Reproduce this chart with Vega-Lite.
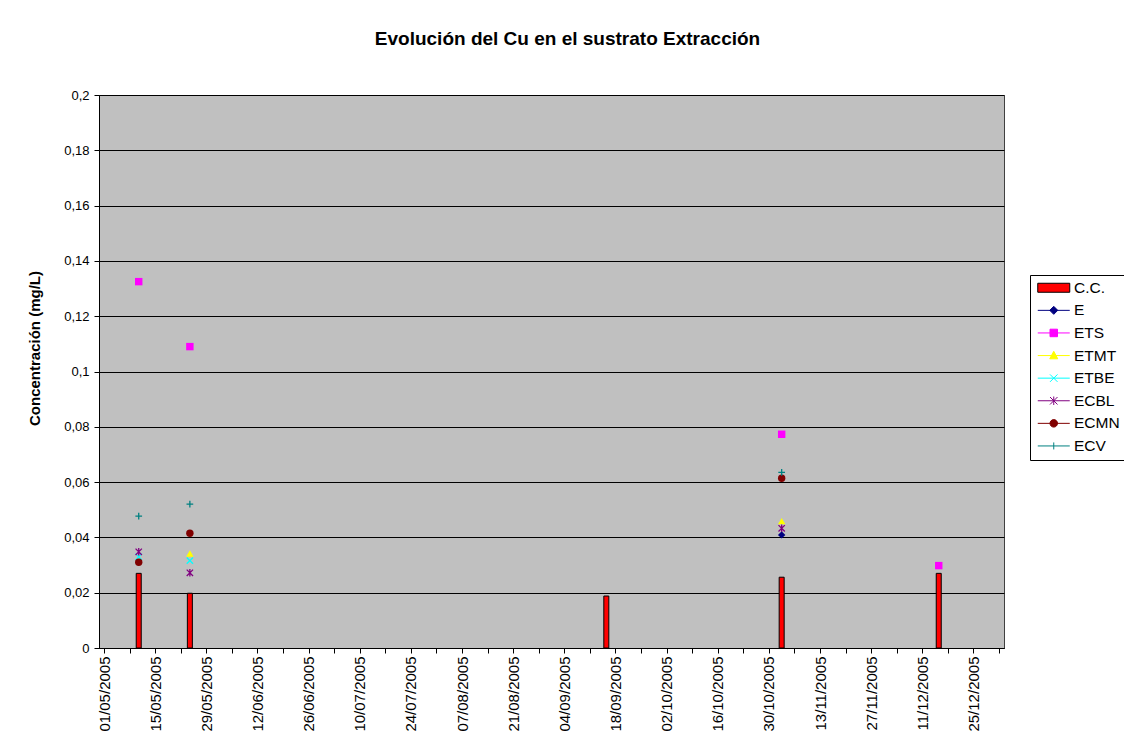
{
  "$schema": "https://vega.github.io/schema/vega-lite/v6.json",
  "width": 905,
  "height": 553,
  "autosize": {"type": "none"},
  "padding": {"left": 99, "top": 95, "right": 120, "bottom": 99},
  "background": "white",
  "title": {
    "text": "Evolución del Cu en el sustrato Extracción",
    "font": "Liberation Sans",
    "fontSize": 19,
    "fontWeight": "bold",
    "color": "black",
    "anchor": "middle",
    "frame": "group",
    "dx": 16,
    "offset": 40
  },
  "config": {
    "view": {"fill": "#C0C0C0", "stroke": "#404040", "strokeWidth": 1},
    "axis": {
      "labelFont": "Liberation Sans",
      "titleFont": "Liberation Sans",
      "labelColor": "black",
      "titleColor": "black",
      "domainColor": "black",
      "tickColor": "black"
    }
  },
  "data": {
    "values": [
      {"fecha": "2005-05-10", "serie": "C.C.", "valor": 0.027},
      {"fecha": "2005-05-10", "serie": "ETS", "valor": 0.1325},
      {"fecha": "2005-05-10", "serie": "ETBE", "valor": 0.033},
      {"fecha": "2005-05-10", "serie": "ECBL", "valor": 0.0348},
      {"fecha": "2005-05-10", "serie": "ECMN", "valor": 0.031},
      {"fecha": "2005-05-10", "serie": "ECV", "valor": 0.0477},
      {"fecha": "2005-05-24", "serie": "C.C.", "valor": 0.0198},
      {"fecha": "2005-05-24", "serie": "ETS", "valor": 0.109},
      {"fecha": "2005-05-24", "serie": "ETMT", "valor": 0.0342},
      {"fecha": "2005-05-24", "serie": "ETBE", "valor": 0.0316},
      {"fecha": "2005-05-24", "serie": "ECBL", "valor": 0.0272},
      {"fecha": "2005-05-24", "serie": "ECMN", "valor": 0.0415},
      {"fecha": "2005-05-24", "serie": "ECV", "valor": 0.052},
      {"fecha": "2005-09-15", "serie": "C.C.", "valor": 0.0188},
      {"fecha": "2005-11-02", "serie": "C.C.", "valor": 0.0256},
      {"fecha": "2005-11-02", "serie": "E", "valor": 0.0409},
      {"fecha": "2005-11-02", "serie": "ETS", "valor": 0.0773},
      {"fecha": "2005-11-02", "serie": "ETMT", "valor": 0.0459},
      {"fecha": "2005-11-02", "serie": "ECBL", "valor": 0.0433},
      {"fecha": "2005-11-02", "serie": "ECMN", "valor": 0.0614},
      {"fecha": "2005-11-02", "serie": "ECV", "valor": 0.0635},
      {"fecha": "2005-12-15", "serie": "C.C.", "valor": 0.027},
      {"fecha": "2005-12-15", "serie": "ETS", "valor": 0.0298}
    ]
  },
  "encoding": {
    "x": {
      "field": "fecha",
      "type": "temporal",
      "title": null,
      "scale": {"type": "utc", "domain": [1114905600000, 1136073600000]},
      "axis": {
        "values": [1114905600000, 1115510400000, 1116115200000, 1116720000000, 1117324800000, 1117929600000, 1118534400000, 1119139200000, 1119744000000, 1120348800000, 1120953600000, 1121558400000, 1122163200000, 1122768000000, 1123372800000, 1123977600000, 1124582400000, 1125187200000, 1125792000000, 1126396800000, 1127001600000, 1127606400000, 1128211200000, 1128816000000, 1129420800000, 1130025600000, 1130630400000, 1131235200000, 1131840000000, 1132444800000, 1133049600000, 1133654400000, 1134259200000, 1134864000000, 1135468800000, 1136073600000],
        "labelExpr": "round((datum.value - 1114905600000) / 604800000) % 2 == 0 ? utcFormat(datum.value, '%d/%m/%Y') : ''",
        "labelAngle": -90,
        "labelFontSize": 15,
        "labelPadding": 3,
        "tickSize": 5,
        "grid": false,
        "labelOverlap": false,
        "labelFlush": false,
        "labelBound": false
      }
    },
    "y": {
      "field": "valor",
      "type": "quantitative",
      "title": "Concentración (mg/L)",
      "scale": {"domain": [0, 0.2], "nice": false, "zero": true},
      "axis": {
        "values": [0, 0.02, 0.04, 0.06, 0.08, 0.1, 0.12, 0.14, 0.16, 0.18, 0.2],
        "labelExpr": "replace(format(datum.value, '.2~f'), '.', ',')",
        "labelFontSize": 13,
        "labelPadding": 5,
        "tickSize": 5,
        "grid": true,
        "gridColor": "black",
        "gridWidth": 1,
        "gridOpacity": 1,
        "titleFontSize": 15,
        "titleFontWeight": "bold",
        "titlePadding": 21,
        "titleY": 253
      }
    },
    "color": {
      "field": "serie",
      "type": "nominal",
      "scale": {
        "domain": ["C.C.", "E", "ETS", "ETMT", "ETBE", "ECBL", "ECMN", "ECV"],
        "range": ["#FF0000", "#000080", "#FF00FF", "#FFFF00", "#00FFFF", "#800080", "#800000", "#008080"]
      },
      "legend": {
        "title": null,
        "orient": "none",
        "legendX": 931,
        "legendY": 180,
        "fillColor": "white",
        "strokeColor": "black",
        "padding": 5,
        "labelFont": "Liberation Sans",
        "labelFontSize": 15.5,
        "labelColor": "black",
        "labelOffset": 23.5,
        "symbolSize": 100,
        "symbolStrokeWidth": 1,
        "symbolOpacity": 1,
        "rowPadding": 5.6,
        "encode": {
          "symbols": {
            "update": {
              "shape": {"signal": "datum.value === 'C.C.' ? 'M-1,-0.9H5.4V0.9H-1Z' : datum.value === 'E' ? 'M-1,0H5.4M2.2,-0.8L3.0,0L2.2,0.8L1.4,0Z' : datum.value === 'ETS' ? 'M-1,0H5.4M1.45,-0.75H2.95V0.75H1.45Z' : datum.value === 'ETMT' ? 'M-1,0H5.4M2.2,-0.85L3.0,0.65H1.4Z' : datum.value === 'ETBE' ? 'M-1,0H5.4M1.45,-0.75L2.95,0.75M1.45,0.75L2.95,-0.75' : datum.value === 'ECBL' ? 'M-1,0H5.4M1.45,-0.75L2.95,0.75M1.45,0.75L2.95,-0.75M2.2,-0.85V0.85' : datum.value === 'ECMN' ? 'M-1,0H5.4M2.95,0A0.75,0.75 0 1,1 1.45,0A0.75,0.75 0 1,1 2.95,0Z' : 'M-1,0H5.4M2.2,-0.7V0.7'"},
              "stroke": {"signal": "datum.value === 'C.C.' ? 'black' : scale('color', datum.value)"},
              "strokeWidth": {"value": 1}
            }
          }
        }
      }
    }
  },
  "layer": [
    {
      "transform": [{"filter": "datum.serie === 'C.C.'"}],
      "mark": {"type": "bar", "size": 5, "stroke": "black", "strokeWidth": 1, "xOffset": 1.85}
    },
    {
      "transform": [{"filter": "datum.serie === 'E'"}],
      "mark": {"type": "point", "shape": "diamond", "filled": true, "size": 55, "opacity": 1, "xOffset": 1.85}
    },
    {
      "transform": [{"filter": "datum.serie === 'ETS'"}],
      "mark": {"type": "point", "shape": "square", "filled": true, "size": 55, "opacity": 1, "xOffset": 1.85}
    },
    {
      "transform": [{"filter": "datum.serie === 'ETMT'"}],
      "mark": {"type": "point", "shape": "triangle-up", "filled": true, "size": 55, "opacity": 1, "xOffset": 1.85}
    },
    {
      "transform": [{"filter": "datum.serie === 'ETBE'"}],
      "mark": {"type": "point", "shape": "M-1,-1L1,1M-1,1L1,-1", "filled": true, "stroke": "#00FFFF", "strokeWidth": 1.3, "size": 40, "opacity": 1, "xOffset": 1.85}
    },
    {
      "transform": [{"filter": "datum.serie === 'ECBL'"}],
      "mark": {"type": "point", "shape": "M-1,-1L1,1M-1,1L1,-1M0,-1.2V1.2", "filled": true, "stroke": "#800080", "strokeWidth": 1.3, "size": 40, "opacity": 1, "xOffset": 1.85}
    },
    {
      "transform": [{"filter": "datum.serie === 'ECMN'"}],
      "mark": {"type": "point", "shape": "circle", "filled": true, "size": 55, "opacity": 1, "xOffset": 1.85}
    },
    {
      "transform": [{"filter": "datum.serie === 'ECV'"}],
      "mark": {"type": "point", "shape": "M-1,0H1M0,-1V1", "filled": true, "stroke": "#008080", "strokeWidth": 1.3, "size": 45, "opacity": 1, "xOffset": 1.85}
    }
  ]
}
